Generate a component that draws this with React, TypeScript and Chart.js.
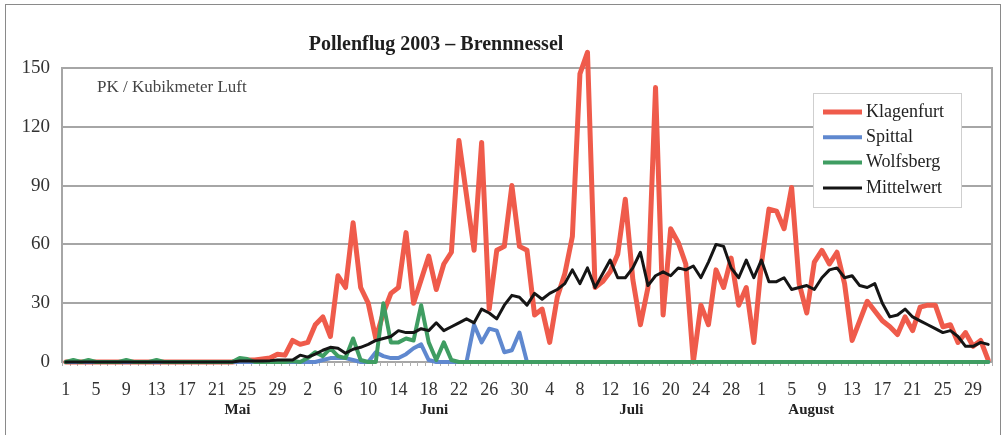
import React, { useEffect, useRef } from "react";
import { Chart, registerables } from "chart.js";

Chart.register(...registerables);

// ---- categories ----
const monthNames = ["Mai", "Juni", "Juli", "August"];
const monthLengths = [31, 30, 31, 31];
const dayLabels: string[] = [];
monthLengths.forEach((n) => {
  for (let d = 1; d <= n; d++) dayLabels.push(String(d));
});
// category index under which each month name is printed
const monthLabelAnchors = [22.7, 48.7, 74.8, 98.6];

// ---- series (PK / m³ Luft) ----
const klagenfurtMai = [0, 0, 0, 0, 0, 0, 0, 0, 0, 0, 0, 0, 0, 0, 0, 0, 0, 0, 0, 0, 0, 0, 0, 0.5, 1, 1, 1.5, 2, 4, 3.5, 11];
const klagenfurtJuni = [9, 10, 19, 23, 13, 44, 38, 71, 38, 30, 12, 25, 35, 38, 66, 30, 42, 54, 37, 50, 56, 113, 85, 57, 112, 27, 57, 59, 90, 59];
const klagenfurtJuli = [57, 24, 27, 10, 33, 45, 64, 147, 158, 38, 41, 46, 55, 83, 42, 19, 38, 140, 24, 68, 61, 50, 0, 29, 19, 47, 38, 53, 29, 38, 10];
const klagenfurtAugust = [50, 78, 77, 68, 89, 40, 25, 51, 57, 50, 56, 40, 11, 21, 31, 26, 21, 18, 14, 23, 16, 28, 29, 29, 18, 19, 10, 15, 8, 11, 1];

const spittalMai = [0, 0, 0, 0, 0, 0, 0, 0, 0, 0, 0, 0, 0, 0, 0, 0, 0, 0, 0, 0, 0, 0, 0, 0, 0, 0, 0, 0, 0, 0, 0];
const spittalJuni = [0, 0, 0, 1, 2, 2, 2, 1, 0, 0, 5, 3, 2, 2, 4, 7, 9, 1, 0, 0, 0, 0, 0, 19, 10, 17, 16, 5, 6, 15];
const spittalJuli = [0, 0, 0, 0, 0, 0, 0, 0, 0, 0, 0, 0, 0, 0, 0, 0, 0, 0, 0, 0, 0, 0, 0, 0, 0, 0, 0, 0, 0, 0, 0];
const spittalAugust = [0, 0, 0, 0, 0, 0, 0, 0, 0, 0, 0, 0, 0, 0, 0, 0, 0, 0, 0, 0, 0, 0, 0, 0, 0, 0, 0, 0, 0, 0, 0];

const wolfsbergMai = [0, 1, 0, 1, 0, 0, 0, 0, 1, 0, 0, 0, 1, 0, 0, 0, 0, 0, 0, 0, 0, 0, 0, 2, 1.5, 0, 0, 0, 0, 0, 0.5];
const wolfsbergJuni = [0, 2, 5, 3, 7, 3, 2, 12, 1, 0, 0, 30, 10, 10, 12, 11, 29, 10, 1, 10, 1, 0, 0, 0, 0, 0, 0, 0, 0, 0];
const wolfsbergJuli = [0, 0, 0, 0, 0, 0, 0, 0, 0, 0, 0, 0, 0, 0, 0, 0, 0, 0, 0, 0, 0, 0, 0, 0, 0, 0, 0, 0, 0, 0, 0];
const wolfsbergAugust = [0, 0, 0, 0, 0, 0, 0, 0, 0, 0, 0, 0, 0, 0, 0, 0, 0, 0, 0, 0, 0, 0, 0, 0, 0, 0, 0, 0, 0, 0, 0];

const mittelMai = [0, 0, 0, 0, 0, 0, 0, 0, 0, 0, 0, 0, 0, 0, 0, 0, 0, 0, 0, 0, 0, 0, 0, 0.5, 0.5, 0.5, 0.5, 0.7, 1, 1, 1];
const mittelJuni = [3.5, 2.5, 4, 6, 7.5, 7, 4.5, 6.5, 7.5, 9, 11, 12, 13, 16, 15, 15, 17, 16, 20, 16, 18, 20, 22, 20, 27, 25, 22, 29, 34, 33];
const mittelJuli = [29, 35, 32, 35, 37, 40, 47, 40, 48, 38, 45, 52, 43, 43, 48, 56, 39, 44, 46, 44, 48, 47, 49, 43, 51, 60, 59, 48, 43, 52, 43];
const mittelAugust = [52, 41, 41, 43, 37, 38, 39, 37, 43, 47, 48, 43, 44, 39, 38, 40, 30, 23, 24, 27, 23, 21, 19, 17, 15, 16, 13, 8, 8, 10, 9];

const klagenfurt = [...klagenfurtMai, ...klagenfurtJuni, ...klagenfurtJuli, ...klagenfurtAugust];
const spittal = [...spittalMai, ...spittalJuni, ...spittalJuli, ...spittalAugust];
const wolfsberg = [...wolfsbergMai, ...wolfsbergJuni, ...wolfsbergJuli, ...wolfsbergAugust];
const mittelwert = [...mittelMai, ...mittelJuni, ...mittelJuli, ...mittelAugust];

const yTicks = [0, 30, 60, 90, 120, 150];

const seriesNames = ["Klagenfurt", "Spittal", "Wolfsberg", "Mittelwert"];
const seriesColors = ["#ef5b4b", "#5f88cf", "#3f9d62", "#151515"];
const seriesWidths = [5, 4, 4, 3];

const titleText = "Pollenflug 2003 \u2013 Brennnessel";
const unitText = "PK / Kubikmeter Luft";

const SERIF = '"Liberation Serif", "Times New Roman", "DejaVu Serif", serif';

const decorPlugin = {
  id: "decor",
  beforeDraw(chart: any) {
    const { ctx } = chart;
    ctx.save();
    ctx.fillStyle = "#ffffff";
    ctx.fillRect(0, 0, chart.width, chart.height);
    ctx.strokeStyle = "#8a8a8a";
    ctx.lineWidth = 1;
    ctx.strokeRect(5.5, 4.5, 995, 445);
    ctx.restore();
  },
  beforeDatasetsDraw(chart: any) {
    const { ctx, chartArea: a } = chart;
    ctx.save();
    ctx.strokeStyle = "#a6a6a6";
    ctx.lineWidth = 2;
    ctx.strokeRect(a.left, a.top, a.right - a.left, a.bottom - a.top);
    // small category tick marks under the axis
    const n = dayLabels.length;
    const w = (a.right - a.left) / n;
    ctx.lineWidth = 1;
    ctx.strokeStyle = "#b0b0b0";
    for (let k = 0; k <= n; k++) {
      const x = Math.round(a.left + k * w) + 0.5;
      ctx.beginPath();
      ctx.moveTo(x, a.bottom);
      ctx.lineTo(x, a.bottom + 4);
      ctx.stroke();
    }
    ctx.restore();
  },
  afterDatasetsDraw(chart: any) {
    const { ctx, chartArea: a } = chart;
    const xs = chart.scales.x;
    ctx.save();
    // title
    ctx.fillStyle = "#1e1e1e";
    ctx.font = `bold 20px ${SERIF}`;
    ctx.textAlign = "center";
    ctx.textBaseline = "middle";
    ctx.fillText(titleText, 436, 45);
    // unit
    ctx.font = `17px ${SERIF}`;
    ctx.fillStyle = "#444";
    ctx.textAlign = "left";
    ctx.fillText(unitText, a.left + 35, 88);
    // month names
    ctx.font = `bold 15px ${SERIF}`;
    ctx.fillStyle = "#222";
    ctx.textAlign = "center";
    monthNames.forEach((m, i) => {
      ctx.fillText(m, xs.getPixelForValue(monthLabelAnchors[i]), 410);
    });
    // legend
    const lx = 813, ly = 93, lw = 148, lh = 114;
    ctx.fillStyle = "#ffffff";
    ctx.fillRect(lx, ly, lw, lh);
    ctx.strokeStyle = "#cfcfcf";
    ctx.lineWidth = 1;
    ctx.strokeRect(lx + 0.5, ly + 0.5, lw, lh);
    ctx.font = `18px ${SERIF}`;
    ctx.textAlign = "left";
    seriesNames.forEach((name, i) => {
      const y = 112 + i * 25.3;
      ctx.strokeStyle = seriesColors[i];
      ctx.lineWidth = seriesWidths[i];
      ctx.beginPath();
      ctx.moveTo(823, y);
      ctx.lineTo(862, y);
      ctx.stroke();
      ctx.fillStyle = "#222";
      ctx.fillText(name, 866, y);
    });
    ctx.restore();
  },
};

export default function App() {
  const ref = useRef<HTMLCanvasElement | null>(null);

  useEffect(() => {
    if (!ref.current) return;
    const series = [klagenfurt, spittal, wolfsberg, mittelwert];
    const chart = new Chart(ref.current, {
      type: "line",
      data: {
        labels: dayLabels,
        datasets: series.map((data, i) => ({
          label: seriesNames[i],
          data,
          borderColor: seriesColors[i],
          backgroundColor: seriesColors[i],
          borderWidth: seriesWidths[i],
          pointRadius: 0,
          tension: 0,
          fill: false,
          clip: false as any,
          borderJoinStyle: "round" as const,
          borderCapStyle: "round" as const,
          order: 3 - i,
        })),
      },
      options: {
        responsive: false,
        animation: false,
        devicePixelRatio: 1,
        layout: { padding: { top: 68, right: 14, left: 0, bottom: 0 } },
        plugins: {
          legend: { display: false },
          tooltip: { enabled: false },
          title: { display: false },
        },
        scales: {
          x: {
            type: "category",
            offset: true,
            grid: { display: false },
            border: { display: false },
            ticks: {
              autoSkip: false,
              maxRotation: 0,
              minRotation: 0,
              padding: 9,
              color: "#333",
              font: { family: SERIF, size: 18 },
              callback: (_v: any, i: number) => (i % 4 === 0 ? dayLabels[i] : null),
            },
            afterFit: (s: any) => {
              s.height = 73;
            },
          },
          y: {
            min: 0,
            max: 150,
            afterBuildTicks: (s: any) => {
              s.ticks = yTicks.map((v) => ({ value: v }));
            },
            ticks: {
              padding: 12,
              color: "#333",
              font: { family: SERIF, size: 19 },
            },
            grid: { color: "#a6a6a6", lineWidth: 2, drawTicks: false },
            border: { display: false },
            afterFit: (s: any) => {
              s.width = 62;
            },
          },
        },
      },
      plugins: [decorPlugin],
    });
    return () => chart.destroy();
  }, []);

  return (
    <div style={{ position: "fixed", left: 0, top: 0, width: 1006, height: 435, background: "#fff" }}>
      <canvas ref={ref} width={1006} height={435} style={{ width: 1006, height: 435, display: "block" }} />
    </div>
  );
}
